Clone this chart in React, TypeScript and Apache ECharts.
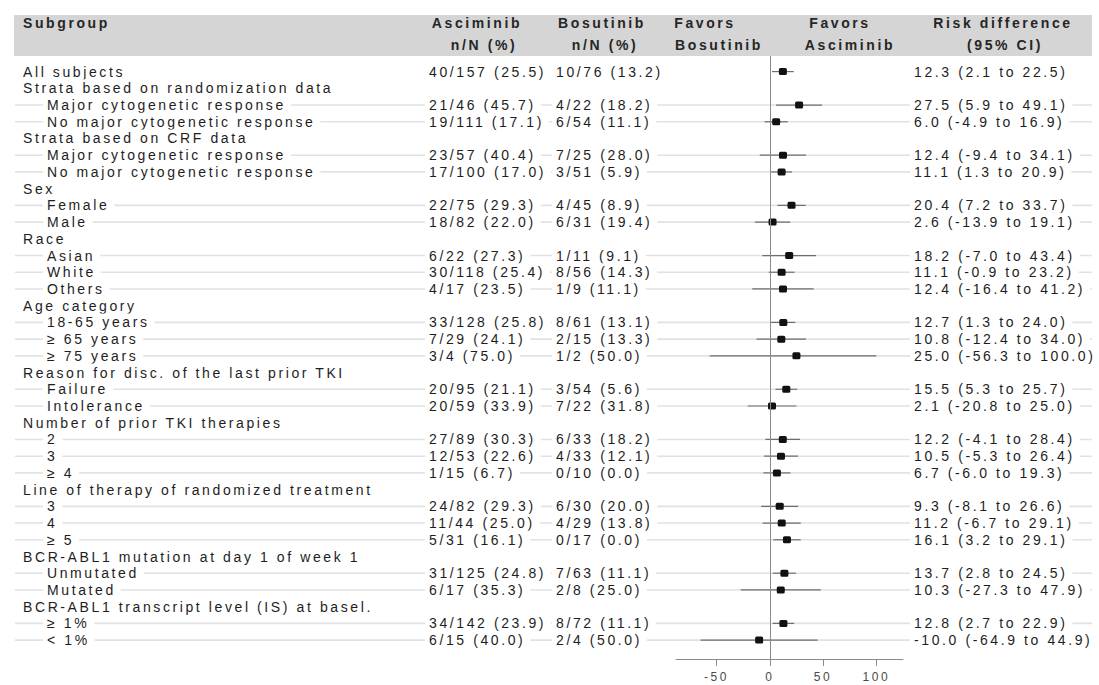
import React, { useEffect, useRef } from "react";
import * as echarts from "echarts";

// ---------- data ----------
const subgroups: string[] = [
  "All subjects",
  "Strata based on randomization data",
  "Major cytogenetic response",
  "No major cytogenetic response",
  "Strata based on CRF data",
  "Major cytogenetic response",
  "No major cytogenetic response",
  "Sex",
  "Female",
  "Male",
  "Race",
  "Asian",
  "White",
  "Others",
  "Age category",
  "18-65 years",
  "≥ 65 years",
  "≥ 75 years",
  "Reason for disc. of the last prior TKI",
  "Failure",
  "Intolerance",
  "Number of prior TKI therapies",
  "2",
  "3",
  "≥ 4",
  "Line of therapy of randomized treatment",
  "3",
  "4",
  "≥ 5",
  "BCR-ABL1 mutation at day 1 of week 1",
  "Unmutated",
  "Mutated",
  "BCR-ABL1 transcript level (IS) at basel.",
  "≥ 1%",
  "< 1%",
];

// 0 = heading row, 1 = indented subgroup row
const rowLevel: number[] = [
  0, 0, 1, 1, 0, 1, 1, 0, 1, 1, 0, 1, 1, 1, 0, 1, 1, 1, 0, 1, 1, 0, 1, 1, 1, 0, 1, 1, 1, 0, 1, 1, 0, 1, 1,
];

const asciminibText: (string | null)[] = [
  "40/157 (25.5)", null, "21/46 (45.7)", "19/111 (17.1)", null, "23/57 (40.4)", "17/100 (17.0)",
  null, "22/75 (29.3)", "18/82 (22.0)", null, "6/22 (27.3)", "30/118 (25.4)", "4/17 (23.5)",
  null, "33/128 (25.8)", "7/29 (24.1)", "3/4 (75.0)", null, "20/95 (21.1)", "20/59 (33.9)",
  null, "27/89 (30.3)", "12/53 (22.6)", "1/15 (6.7)", null, "24/82 (29.3)", "11/44 (25.0)",
  "5/31 (16.1)", null, "31/125 (24.8)", "6/17 (35.3)", null, "34/142 (23.9)", "6/15 (40.0)",
];

const bosutinibText: (string | null)[] = [
  "10/76 (13.2)", null, "4/22 (18.2)", "6/54 (11.1)", null, "7/25 (28.0)", "3/51 (5.9)",
  null, "4/45 (8.9)", "6/31 (19.4)", null, "1/11 (9.1)", "8/56 (14.3)", "1/9 (11.1)",
  null, "8/61 (13.1)", "2/15 (13.3)", "1/2 (50.0)", null, "3/54 (5.6)", "7/22 (31.8)",
  null, "6/33 (18.2)", "4/33 (12.1)", "0/10 (0.0)", null, "6/30 (20.0)", "4/29 (13.8)",
  "0/17 (0.0)", null, "7/63 (11.1)", "2/8 (25.0)", null, "8/72 (11.1)", "2/4 (50.0)",
];

const riskEst: (number | null)[] = [
  12.3, null, 27.5, 6.0, null, 12.4, 11.1, null, 20.4, 2.6, null, 18.2, 11.1, 12.4,
  null, 12.7, 10.8, 25.0, null, 15.5, 2.1, null, 12.2, 10.5, 6.7, null, 9.3, 11.2, 16.1,
  null, 13.7, 10.3, null, 12.8, -10.0,
];
const riskLo: (number | null)[] = [
  2.1, null, 5.9, -4.9, null, -9.4, 1.3, null, 7.2, -13.9, null, -7.0, -0.9, -16.4,
  null, 1.3, -12.4, -56.3, null, 5.3, -20.8, null, -4.1, -5.3, -6.0, null, -8.1, -6.7, 3.2,
  null, 2.8, -27.3, null, 2.7, -64.9,
];
const riskHi: (number | null)[] = [
  22.5, null, 49.1, 16.9, null, 34.1, 20.9, null, 33.7, 19.1, null, 43.4, 23.2, 41.2,
  null, 24.0, 34.0, 100.0, null, 25.7, 25.0, null, 28.4, 26.4, 19.3, null, 26.6, 29.1, 29.1,
  null, 24.5, 47.9, null, 22.9, 44.9,
];

const xTicks: number[] = [-50, 0, 50, 100];

// ---------- style / layout ----------
const FONT = '"Liberation Sans", Arial, Helvetica, sans-serif';
const LS = 2.6; // letter spacing (px), applied through CSS
const TEXT = "#1e1e1e";
const W = 1099;
const H = 685;

const COL_SUB0 = 23;
const COL_SUB1 = 47;
const COL_ASC = 429;
const COL_BOS = 556;
const COL_RISK = 914;

const fmt = (v: number) => v.toFixed(1);

function rowText(s: string, x: number, y: number) {
  return {
    type: "text",
    x: x - 4,
    y,
    silent: true,
    style: {
      text: s,
      fill: TEXT,
      fontSize: 14,
      fontFamily: FONT,
      align: "left",
      verticalAlign: "middle",
      textAlign: "left",
      textVerticalAlign: "middle",
      backgroundColor: "#ffffff",
      padding: [2, 5 + LS * s.length, 2, 4],
    },
  };
}

function headText(s: string, x: number, y: number, align: string) {
  return {
    type: "text",
    x,
    y,
    silent: true,
    style: {
      text: s,
      fill: "#262626",
      fontSize: 14,
      fontWeight: "bold",
      fontFamily: FONT,
      align,
      verticalAlign: "middle",
      textAlign: align,
      textVerticalAlign: "middle",
    },
  };
}

export default function App() {
  const ref = useRef<HTMLDivElement>(null);

  useEffect(() => {
    if (!ref.current) return;
    const chart = echarts.init(ref.current, undefined, { renderer: "svg", width: W, height: H });

    const rowData = subgroups.map((_, i) => [0, i]);
    const forestData: number[][] = [];
    riskEst.forEach((e, i) => {
      if (e !== null && riskLo[i] !== null && riskHi[i] !== null) {
        forestData.push([e, riskLo[i] as number, riskHi[i] as number, i]);
      }
    });

    const option: any = {
      animation: false,
      backgroundColor: "#ffffff",
      textStyle: { fontFamily: FONT },
      grid: { left: 676, top: 56, width: 227, height: 603, containLabel: false },
      xAxis: {
        type: "value",
        position: "bottom",
        min: -88,
        max: 125,
        axisLine: { show: true, onZero: false, lineStyle: { color: "#8a8a8a", width: 1 } },
        axisTick: { show: true, length: 7, inside: false, customValues: xTicks, lineStyle: { color: "#8a8a8a" } },
        axisLabel: {
          show: true,
          customValues: xTicks,
          color: "#4a4a4a",
          fontSize: 12,
          fontFamily: FONT,
          margin: 12,
        },
        splitLine: { show: false },
      },
      yAxis: {
        type: "value",
        inverse: true,
        min: -0.933,
        max: 35.13,
        show: false,
        splitLine: { show: false },
      },
      graphic: [
        {
          type: "rect",
          silent: true,
          z: 0,
          shape: { x: 14, y: 15, width: 1078, height: 41 },
          style: { fill: "#d5d5d5" },
        },
        headText("Subgroup", 23, 23, "left"),
        headText("Asciminib", 477, 23, "center"),
        headText("n/N (%)", 484, 45, "center"),
        headText("Bosutinib", 602, 23, "center"),
        headText("n/N (%)", 605, 45, "center"),
        headText("Favors", 705, 23, "center"),
        headText("Bosutinib", 719, 45, "center"),
        headText("Favors", 840, 23, "center"),
        headText("Asciminib", 850, 45, "center"),
        headText("Risk difference", 1003, 23, "center"),
        headText("(95% CI)", 1005, 45, "center"),
      ],
      series: [
        {
          type: "custom",
          name: "rows",
          coordinateSystem: "cartesian2d",
          clip: false,
          z: 1,
          silent: true,
          encode: { x: 0, y: 1 },
          data: rowData,
          renderItem: (params: any, api: any) => {
            const i = api.value(1) as number;
            const y = api.coord([0, i])[1];
            const children: any[] = [];
            if (rowLevel[i] === 1) {
              children.push({
                type: "line",
                silent: true,
                shape: { x1: 15, y1: y, x2: 1092, y2: y },
                style: { stroke: "#e2e2e2", lineWidth: 1.6 },
              });
            }
            children.push(rowText(subgroups[i], rowLevel[i] === 1 ? COL_SUB1 : COL_SUB0, y));
            const a = asciminibText[i];
            if (a) children.push(rowText(a, COL_ASC, y));
            const b = bosutinibText[i];
            if (b) children.push(rowText(b, COL_BOS, y));
            const e = riskEst[i];
            const lo = riskLo[i];
            const hi = riskHi[i];
            if (e !== null && lo !== null && hi !== null) {
              children.push(rowText(`${fmt(e)} (${fmt(lo)} to ${fmt(hi)})`, COL_RISK, y));
            }
            return { type: "group", children };
          },
        },
        {
          type: "custom",
          name: "forest",
          coordinateSystem: "cartesian2d",
          clip: false,
          z: 3,
          silent: true,
          encode: { x: [0, 1, 2], y: 3 },
          data: forestData,
          renderItem: (params: any, api: any) => {
            const row = api.value(3);
            const pe = api.coord([api.value(0), row]);
            const pl = api.coord([api.value(1), row]);
            const ph = api.coord([api.value(2), row]);
            return {
              type: "group",
              children: [
                {
                  type: "line",
                  shape: { x1: pl[0], y1: pl[1], x2: ph[0], y2: ph[1] },
                  style: { stroke: "#6e6e6e", lineWidth: 1.2 },
                },
                {
                  type: "rect",
                  shape: { x: pe[0] - 4, y: pe[1] - 3.5, width: 8, height: 7, r: 1.5 },
                  style: { fill: "#111111" },
                },
              ],
            };
          },
          markLine: {
            silent: true,
            symbol: ["none", "none"],
            label: { show: false },
            lineStyle: { color: "#8a8a8a", type: "solid", width: 1 },
            data: [{ xAxis: 0 }],
          },
        },
      ],
    };

    chart.setOption(option);
    return () => {
      chart.dispose();
    };
  }, []);

  return (
    <div
      ref={ref}
      style={{
        position: "fixed",
        left: 0,
        top: 0,
        width: W,
        height: H,
        background: "#ffffff",
        letterSpacing: `${LS}px`,
      }}
    />
  );
}
